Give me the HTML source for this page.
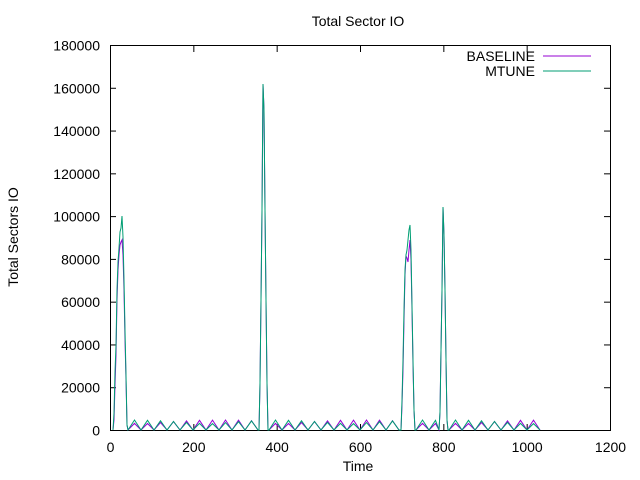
<!DOCTYPE html>
<html><head><style>body{margin:0;background:#fff}svg{display:block;font-family:"Liberation Sans",sans-serif}</style></head>
<body>
<svg id="s" width="640" height="480" xmlns="http://www.w3.org/2000/svg">
<rect width="640" height="480" fill="#fff"/>
<text x="358" y="26" font-size="14" text-anchor="middle">Total Sector IO</text>
<text x="18" y="237" font-size="14" text-anchor="middle" transform="rotate(-90 18 237)">Total Sectors IO</text>
<text x="358" y="471" font-size="14" text-anchor="middle">Time</text>
<g id="ax" stroke="#000" stroke-width="1" fill="none"></g>
<g id="lbl" font-size="14" fill="#000"></g>
<text x="535" y="61" font-size="14" text-anchor="end">BASELINE</text>
<text x="535" y="76" font-size="14" text-anchor="end">MTUNE</text>
<line x1="543" y1="56" x2="591" y2="56" stroke="#9400d3"/>
<line x1="543" y1="71" x2="591" y2="71" stroke="#009e73"/>
<polyline id="b" fill="none" stroke="#9400d3" stroke-width="1"/>
<polyline id="m" fill="none" stroke="#009e73" stroke-width="1"/>
</svg>
<script>
var ax=document.getElementById('ax'),lb=document.getElementById('lbl'),h='',t='';
h+='<rect x="110.5" y="45.5" width="500" height="385"/>';
for(var i=0;i<=9;i++){var y=430.5-i*385/9;h+='<line x1="110" y1="'+y+'" x2="116" y2="'+y+'"/><line x1="604" y1="'+y+'" x2="610" y2="'+y+'"/>';t+='<text x="100" y="'+(y+5)+'" text-anchor="end">'+(i*20000)+'</text>';}
for(var i=0;i<=6;i++){var x=110.5+i*500/6;h+='<line x1="'+x+'" y1="430" x2="'+x+'" y2="424"/><line x1="'+x+'" y1="46" x2="'+x+'" y2="52"/>';t+='<text x="'+x+'" y="452" text-anchor="middle">'+(i*200)+'</text>';}
ax.innerHTML=h;lb.innerHTML=t;
function tri(a,b,off,amp){var p=[];for(var x=a;x<b;x+=6.5){var k=Math.round((x-a)/6.5);p.push([x,(k%2)?430-amp*(0.6+0.4*Math.abs(Math.sin(k*1.7+off))):430]);}return p;}
var pk1m=[[113,430],[114,413],[115,372],[116,345],[117,290],[118,262],[119,248],[120,232],[121,228],[122,216],[123,237],[124,280],[125,330],[126,375],[127,425]];
var pk1b=[[113,430],[114,420],[115,385],[116,355],[117,300],[118,270],[119,255],[120,245],[121,242],[122,240],[123,255],[124,290],[125,340],[126,380],[127,425]];
var pk2=[[259,430],[260,383],[261,300],[262,210],[263,84],[264,110],[265,210],[266,300],[267,383],[268,430]];
var pk3m=[[401,430],[402,400],[403,360],[404,310],[405,270],[406,255],[407,250],[408,240],[409,230],[410,225],[411,250],[412,305],[413,360],[414,410],[415,430]];
var pk3b=[[401,430],[402,405],[403,370],[404,320],[405,275],[406,256],[407,258],[408,262],[409,250],[410,240],[411,260],[412,310],[413,365],[414,410],[415,430]];
var pk4=[[439,430],[440,412],[441,350],[442,290],[443,207],[444,235],[445,290],[446,360],[447,420],[448,430]];
function build(p1,p3,off){return [].concat(p1,tri(128,259,off,10),pk2,tri(269,401,off,10),p3,tri(416,439,off,10),pk4,tri(449,543,off,10));}
function str(a){return a.map(function(p){return p[0].toFixed(1)+','+p[1].toFixed(1)}).join(' ');}
document.getElementById('b').setAttribute('points',str(build(pk1b,pk3b,1.3)));
document.getElementById('m').setAttribute('points',str(build(pk1m,pk3m,0)));
</script>
</body></html>
